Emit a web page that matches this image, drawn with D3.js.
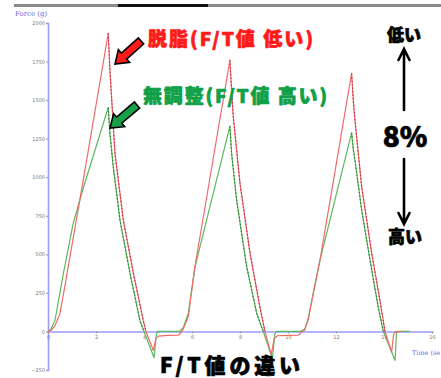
<!DOCTYPE html>
<html><head><meta charset="utf-8">
<script src="https://cdn.jsdelivr.net/npm/d3@7"></script>
<style>body{margin:0;background:#fff;}svg{display:block;}</style>
</head><body>
<svg id="c" width="441" height="378"></svg>
<script>
// ---- data ----
const yTicks = [-250, 0, 250, 500, 750, 1000, 1250, 1500, 1750, 2000];
const xTicks = [0, 2, 4, 6, 8, 10, 12, 14, 16];
const redT = [0,0.15,0.3,0.5,0.71,1.5,2.51,2.58,2.79,3.14,3.56,3.97,4.08,4.39,4.5,4.6,5.0,5.45,5.55,5.65,5.85,6.1,7.58,7.65,7.72,8.0,8.42,8.83,9.04,9.3,9.42,9.55,10.0,10.45,10.55,10.7,10.85,11.05,11.33,12.65,12.72,12.79,13.07,13.49,13.83,14.04,14.32,14.39,14.45,14.7];
const redV = [0,10,40,117,300,1010,1933,1695,1155,720,375,71,0,-123,-45,-30,-26,-24,-5,20,100,400,1760,1560,1392,959,505,158,0,-150,-50,-28,-26,-24,-5,10,80,245,461,1673,1500,1370,937,505,201,0,-134,-30,-3,0];
const greenT = [0,0.12,0.29,0.64,1.05,1.47,2.51,2.58,2.72,3.0,3.42,3.83,4.0,4.42,4.5,4.55,5.5,5.65,5.85,6.125,7.58,7.65,7.86,8.28,8.7,8.97,9.35,9.45,9.5,10.5,10.7,10.85,11.05,11.33,12.65,12.72,12.79,13.07,13.42,13.76,13.97,14.46,14.52,14.6,15.08];
const greenV = [0,15,71,375,700,930,1452,1285,1067,720,375,71,0,-171,-40,0,0,30,120,418,1331,1154,851,418,115,0,-175,-20,0,0,15,90,245,461,1288,1180,1110,786,461,158,0,-188,-10,0,0];

const svg = d3.select('#c');
const x = d3.scaleLinear().domain([0,16]).range([48,432]);
const y = d3.scaleLinear().domain([-250,2000]).range([370,23]);
const axisCol = '#9a9aff';

// top window bar
svg.append('rect').attr('x',14).attr('y',4).attr('width',427).attr('height',3).attr('fill','#8a8a8a');
svg.append('rect').attr('x',118).attr('y',4).attr('width',90).attr('height',3).attr('fill','#111');

// axes
const ya = svg.append('g').attr('transform','translate(48,0)')
  .call(d3.axisLeft(y).tickValues(yTicks).tickFormat(d3.format('d')).tickSize(2).tickPadding(1));
ya.select('.domain').attr('stroke',axisCol).attr('stroke-width',1.6);
ya.selectAll('.tick line').attr('stroke','#999');
ya.selectAll('.tick text').attr('font-size',5).attr('fill','#777').attr('font-family','DejaVu Sans');

const xa = svg.append('g').attr('transform','translate(0,'+y(0)+')')
  .call(d3.axisBottom(x).tickValues(xTicks).tickFormat(d3.format('d')).tickSize(2).tickPadding(2));
xa.select('.domain').attr('stroke',axisCol).attr('stroke-width',1.6);
xa.selectAll('.tick line').attr('stroke','#999');
xa.selectAll('.tick text').attr('font-size',5).attr('fill','#777').attr('font-family','DejaVu Sans');

svg.append('text').attr('x',15).attr('y',16).attr('font-size',7).attr('fill','#6a6ae8')
  .attr('font-family','DejaVu Serif').text('Force  (g)');
svg.append('text').attr('x',412).attr('y',355).attr('font-size',6.5).attr('fill','#6a6ae8')
  .attr('font-family','DejaVu Serif').text('Time (se');

// series
const line = d3.line().x(d=>x(d[0])).y(d=>y(d[1])).curve(d3.curveLinear);
function drawSeries(T, V, base, dark){
  const pts = T.map((t,i)=>[t,V[i]]);
  svg.append('path').attr('d',line(pts)).attr('fill','none').attr('stroke',base).attr('stroke-width',1.2).attr('stroke-linejoin','round');
  let seg = [];
  const flush = ()=>{ if(seg.length) svg.append('path').attr('d',line(seg)).attr('fill','none').attr('stroke',dark)
        .attr('stroke-width',1.1).attr('stroke-dasharray','1.5,2'); seg=[]; };
  for(let i=0;i<pts.length-1;i++){
    if(pts[i+1][1] < pts[i][1] && pts[i][1] > 0){
      if(seg.length===0) seg.push(pts[i]);
      seg.push(pts[i+1]);
    } else flush();
  }
  flush();
}
drawSeries(greenT, greenV, '#5cb85c', '#2e7a35');
drawSeries(redT, redV, '#f06a6a', '#b8304a');

// annotation block arrows
function blockArrow(tail, tip, fill){
  const dx = tip[0]-tail[0], dy = tip[1]-tail[1];
  const L = Math.hypot(dx,dy), ang = Math.atan2(dy,dx)*180/Math.PI;
  const sw=4, hw=8.5, hl=12;
  const p = [[0,-sw],[L-hl,-sw],[L-hl,-hw],[L,0],[L-hl,hw],[L-hl,sw],[0,sw]];
  svg.append('polygon').attr('points',p.map(q=>q.join(',')).join(' '))
    .attr('transform',`translate(${tail[0]},${tail[1]}) rotate(${ang})`)
    .attr('fill',fill).attr('stroke','#000').attr('stroke-width',1.6).attr('stroke-linejoin','miter');
}
blockArrow([141,41],[115,64],'#ff1a1a');
blockArrow([137,105],[110,128],'#18a048');

const jp = '"Noto Sans CJK JP", sans-serif';
function label(txt, xx, yy, size, col, opts){
  const t = svg.append('text').attr('x',xx).attr('y',yy).attr('dominant-baseline','central')
    .attr('font-family',jp).attr('font-weight',900).attr('font-size',size).attr('fill',col)
    .attr('stroke',col).attr('stroke-width',0.7).attr('stroke-linejoin','round').text(txt);
  if(opts.len) t.attr('textLength',opts.len).attr('lengthAdjust','spacing');
  if(opts.mid) t.attr('text-anchor','middle');
}
label('脱脂(F/T値 低い)',148,37,19,'#ff1a1a',{len:165});
label('無調整(F/T値 高い)',143,94,19,'#10a048',{len:184});
label('F/T値の違い',160,364,21,'#000',{len:140});
label('低い',404,33,17,'#000',{mid:true});
label('8%',405,135,28,'#000',{mid:true});
label('高い',405,235,17,'#000',{mid:true});

// thin arrows
const g = svg.append('g').attr('stroke','#000').attr('stroke-width',2.6).attr('fill','none').attr('stroke-linecap','round');
g.append('path').attr('d','M404,110 L404,49 M398.5,60 L404,49 L409.5,60');
g.append('path').attr('d','M404,159 L404,224 M398.5,213 L404,224 L409.5,213');
</script>
</body></html>
